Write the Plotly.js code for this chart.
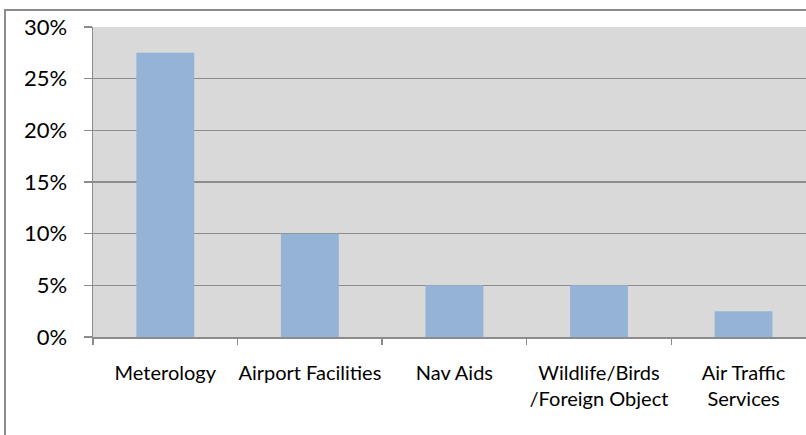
<!DOCTYPE html>
<html>
<head>
<meta charset="utf-8">
<script src="https://cdn.plot.ly/plotly-3.0.1.min.js"></script>
<style>
html,body{margin:0;padding:0;overflow:hidden;background:#fff;width:806px;height:435px}
#wrap{position:relative;width:806px;height:435px;overflow:hidden}
#frame{position:absolute;left:4px;top:9px;width:900px;height:600px;border-left:2px solid #8C8C8C;border-top:2px solid #8C8C8C;pointer-events:none;box-sizing:border-box}
</style>
</head>
<body>
<div id="wrap">
<div id="chart" style="width:806px;height:435px"></div>
<div id="frame"></div>
</div>
<script>
const categories = ["Meterology", "Airport Facilities", "Nav Aids", "Wildlife/Birds<br>/Foreign Object", "Air Traffic<br>Services"];
const shares = [0.275, 0.10, 0.05, 0.05, 0.025];
const yTicks = [0, 0.05, 0.10, 0.15, 0.20, 0.25, 0.30];
const yTickLabels = ["0%", "5%", "10%", "15%", "20%", "25%", "30%"];

const trace = {
  type: "bar",
  x: categories,
  y: shares,
  width: 0.4,
  marker: {color: "#95B3D7", line: {width: 0}},
  hoverinfo: "skip"
};

const layout = {
  width: 806,
  height: 435,
  margin: {l: 93, r: 0, t: 27, b: 98, pad: 0},
  paper_bgcolor: "#ffffff",
  plot_bgcolor: "#D9D9D9",
  showlegend: false,
  font: {family: "Lato, 'DejaVu Sans', sans-serif", color: "#000000"},
  xaxis: {
    type: "category",
    range: [-0.5, 4.432],
    tickson: "boundaries",
    ticks: "outside",
    ticklen: 6,
    tickwidth: 1.5,
    tickcolor: "#8C8C8C",
    showline: true,
    linecolor: "#8C8C8C",
    linewidth: 1.5,
    showgrid: false,
    tickangle: 0,
    automargin: false,
    tickfont: {size: 20, color: "#000000"},
    ticklabelstandoff: 17,
    fixedrange: true
  },
  yaxis: {
    range: [0, 0.30],
    tickvals: yTicks,
    ticktext: yTickLabels,
    ticks: "outside",
    ticklen: 8,
    tickwidth: 1.5,
    tickcolor: "#8C8C8C",
    showline: true,
    linecolor: "#8C8C8C",
    linewidth: 1.5,
    showgrid: true,
    gridcolor: "#8C8C8C",
    gridwidth: 1.5,
    zeroline: false,
    automargin: false,
    tickfont: {size: 22, color: "#000000"},
    ticklabelstandoff: 12,
    fixedrange: true
  }
};

Plotly.newPlot("chart", [trace], layout, {displayModeBar: false, staticPlot: true});
</script>
</body>
</html>
